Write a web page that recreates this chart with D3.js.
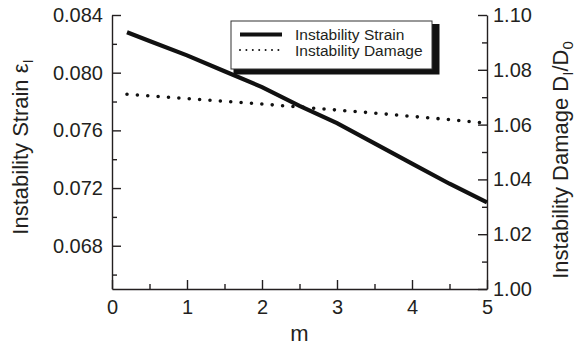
<!DOCTYPE html>
<html>
<head>
<meta charset="utf-8">
<script src="https://cdn.jsdelivr.net/npm/d3@7"></script>
<style>
  html, body { margin: 0; padding: 0; background: #fff; }
  svg { display: block; font-family: "Liberation Sans", Arial, Helvetica, sans-serif; }
  .axis path, .axis line { stroke: #231f20; stroke-width: 1.4; }
  .axis text { fill: #231f20; font-size: 20px; }
</style>
</head>
<body>
<svg id="chart" width="575" height="348"></svg>
<script>
// Exponent m and the instability values computed for each
const mValues      = [0.2, 0.5, 1.0, 1.5, 2.0, 2.5, 3.0, 3.5, 4.0, 4.5, 5.0];
const strainValues = [0.0828, 0.0822, 0.0812, 0.0801, 0.0790, 0.0777, 0.0765, 0.0751, 0.0737, 0.0723, 0.0710];
const damageValues = [1.0711, 1.0705, 1.0695, 1.0685, 1.0675, 1.0664, 1.0653, 1.0642, 1.0630, 1.0618, 1.0605];

// Tick values
const xMajorTicks      = [0, 1, 2, 3, 4, 5];
const xMinorTicks      = [0.5, 1.5, 2.5, 3.5, 4.5];
const strainMajorTicks = [0.068, 0.072, 0.076, 0.080, 0.084];
const strainMinorTicks = [0.066, 0.070, 0.074, 0.078, 0.082];
const damageMajorTicks = [1.00, 1.02, 1.04, 1.06, 1.08, 1.10];
const damageMinorTicks = [1.01, 1.03, 1.05, 1.07, 1.09];

const seriesNames = ["Instability Strain", "Instability Damage"];

const svg = d3.select("#chart");
const margin = { top: 15, right: 88, bottom: 59, left: 112 };
const W = 575, H = 348;
const innerW = W - margin.left - margin.right;
const innerH = H - margin.top - margin.bottom;

const g = svg.append("g").attr("transform", `translate(${margin.left},${margin.top})`);

const x  = d3.scaleLinear().domain([0, 5]).range([0, innerW]);
const yL = d3.scaleLinear().domain([0.065, 0.084]).range([innerH, 0]);
const yR = d3.scaleLinear().domain([1.00, 1.10]).range([innerH, 0]);

// Axes with inward-facing ticks
const majorLen = 9, minorLen = 5;

g.append("g").attr("class", "axis")
  .attr("transform", `translate(0,${innerH})`)
  .call(d3.axisBottom(x).tickValues(xMajorTicks).tickFormat(d3.format("d"))
    .tickSizeInner(-majorLen).tickSizeOuter(0).tickPadding(11));
g.append("g").attr("class", "axis")
  .attr("transform", `translate(0,${innerH})`)
  .call(d3.axisBottom(x).tickValues(xMinorTicks).tickFormat("")
    .tickSizeInner(-minorLen).tickSizeOuter(0))
  .select(".domain").remove();

g.append("g").attr("class", "axis")
  .call(d3.axisLeft(yL).tickValues(strainMajorTicks).tickFormat(d3.format(".3f"))
    .tickSizeInner(-majorLen).tickSizeOuter(0).tickPadding(9));
g.append("g").attr("class", "axis")
  .call(d3.axisLeft(yL).tickValues(strainMinorTicks).tickFormat("")
    .tickSizeInner(-minorLen).tickSizeOuter(0))
  .select(".domain").remove();

g.append("g").attr("class", "axis")
  .attr("transform", `translate(${innerW},0)`)
  .call(d3.axisRight(yR).tickValues(damageMajorTicks).tickFormat(d3.format(".2f"))
    .tickSizeInner(-majorLen).tickSizeOuter(0).tickPadding(6));
g.append("g").attr("class", "axis")
  .attr("transform", `translate(${innerW},0)`)
  .call(d3.axisRight(yR).tickValues(damageMinorTicks).tickFormat("")
    .tickSizeInner(-minorLen).tickSizeOuter(0))
  .select(".domain").remove();

// Lines
const strainLine = d3.line().x((d, i) => x(mValues[i])).y(d => yL(d));
const damageLine = d3.line().x((d, i) => x(mValues[i])).y(d => yR(d));

g.append("path")
  .datum(strainValues)
  .attr("d", strainLine)
  .attr("fill", "none")
  .attr("stroke", "#111")
  .attr("stroke-width", 4.2);

g.append("path")
  .datum(damageValues)
  .attr("d", damageLine)
  .attr("fill", "none")
  .attr("stroke", "#111")
  .attr("stroke-width", 3.6)
  .attr("stroke-linecap", "round")
  .attr("stroke-dasharray", "0 10.4");

// Axis titles
const titleSize = 22;
const ink = "#231f20";

svg.append("text")
  .attr("transform", "translate(28,147) rotate(-90)")
  .attr("text-anchor", "middle")
  .attr("font-size", titleSize)
  .attr("fill", ink)
  .call(t => {
    t.append("tspan").text("Instability Strain ε");
    t.append("tspan").attr("font-size", 15).attr("dy", 5).text("I");
  });

svg.append("text")
  .attr("transform", "translate(568,160) rotate(-90)")
  .attr("text-anchor", "middle")
  .attr("font-size", titleSize)
  .attr("fill", ink)
  .call(t => {
    t.append("tspan").text("Instability Damage D");
    t.append("tspan").attr("font-size", 15).attr("dy", 5).text("I");
    t.append("tspan").attr("dy", -5).text("/D");
    t.append("tspan").attr("font-size", 15).attr("dy", 5).text("0");
  });

svg.append("text")
  .attr("x", margin.left + innerW / 2)
  .attr("y", 341)
  .attr("text-anchor", "middle")
  .attr("font-size", titleSize)
  .attr("fill", ink)
  .text("m");

// Legend with drop shadow
const legend = svg.append("g").attr("transform", "translate(231,21)");
const lw = 201, lh = 48;
legend.append("rect")
  .attr("x", 2.5).attr("y", 3).attr("width", lw + 5).attr("height", lh + 2.5)
  .attr("fill", "#111");
legend.append("rect")
  .attr("x", 0).attr("y", 0).attr("width", lw).attr("height", lh)
  .attr("fill", "#fff").attr("stroke", "#333").attr("stroke-width", 1);

const rows = [
  { name: seriesNames[0], y: 13.5, width: 4, dash: null, cap: "butt" },
  { name: seriesNames[1], y: 29, width: 2, dash: "0 6.4", cap: "round" }
];
rows.forEach(r => {
  legend.append("line")
    .attr("x1", 9).attr("x2", 51).attr("y1", r.y).attr("y2", r.y)
    .attr("stroke", "#111").attr("stroke-width", r.width)
    .attr("stroke-linecap", r.cap)
    .attr("stroke-dasharray", r.dash);
  legend.append("text")
    .attr("x", 64).attr("y", r.y + 5.5)
    .attr("font-size", 15.5)
    .attr("fill", ink)
    .text(r.name);
});
</script>
</body>
</html>
